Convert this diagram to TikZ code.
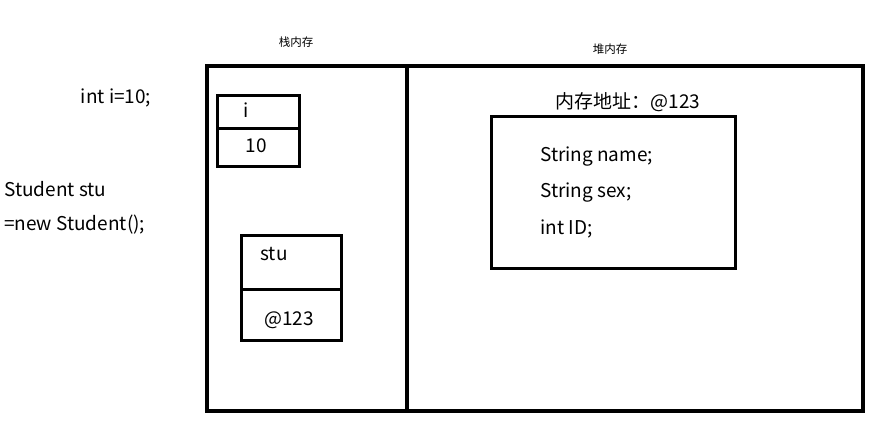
\documentclass[tikz,border=0pt]{standalone}
\usepackage{fontspec}
\setmainfont{Noto Sans CJK SC}
\begin{document}
\begin{tikzpicture}[x=1pt,y=-1pt,
  box/.style={draw,line width=3.5pt},
  cell/.style={draw,line width=3pt},
  txt/.style={font=\fontsize{19}{22}\selectfont,inner sep=0pt},
  small/.style={font=\fontsize{11.5}{13}\selectfont,inner sep=0pt}]
\useasboundingbox (0,0) rectangle (870,424);
\draw[box] (207,66) rectangle (407,411);
\draw[box] (407,66) rectangle (863,411);
\draw[cell] (217,95) rectangle (299,128);
\draw[cell] (217,128) rectangle (299,166);
\draw[cell] (241,235) rectangle (341,289);
\draw[cell] (241,289) rectangle (341,340);
\draw[cell] (491,116) rectangle (735,268);
\node[small] (l1) at (296,42) {栈内存};
\node[small] (l2) at (610,49) {堆内存};
\node[txt] (ti) at (246,110) {i};
\node[txt] (t10) at (256,146) {10};
\node[txt] (tstu) at (274,254) {stu};
\node[txt] (tadr) at (289,320) {@123};
\node[txt] (addr) at (628,102) {内存地址：@123};
\node[txt,anchor=west] (n1) at (540,157) {String name;};
\node[txt,anchor=west] (n2) at (540,193) {String sex;};
\node[txt,anchor=west] (n3) at (540,229) {int ID;};
\node[txt] (c1) at (116,98) {int i=10;};
\node[txt,anchor=west] (c2) at (4,189) {Student stu};
\node[txt,anchor=west] (c3) at (4,225) {=new Student();};
\end{tikzpicture}
\end{document}
